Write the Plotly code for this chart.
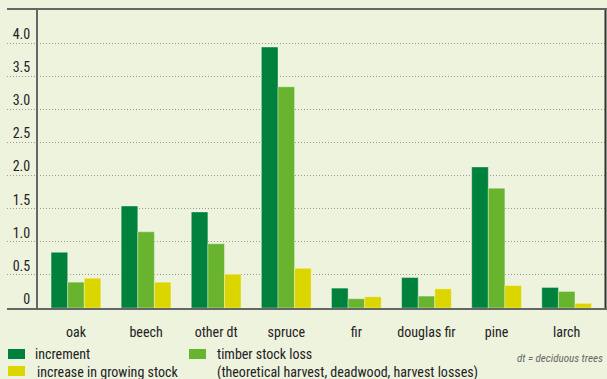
import plotly.graph_objects as go

# ── Data ──────────────────────────────────────────────────────────────────────
species = ["oak", "beech", "other dt", "spruce", "fir", "douglas fir", "pine", "larch"]
increment = [0.84, 1.54, 1.45, 3.94, 0.30, 0.46, 2.13, 0.31]
timber_loss = [0.39, 1.15, 0.97, 3.34, 0.14, 0.18, 1.81, 0.25]
stock_increase = [0.45, 0.39, 0.51, 0.60, 0.17, 0.29, 0.34, 0.07]

y_ticks = [0, 0.5, 1.0, 1.5, 2.0, 2.5, 3.0, 3.5, 4.0]
y_tick_text = ["0", "0.5", "1.0", "1.5", "2.0", "2.5", "3.0", "3.5", "4.0"]

# ── Style ─────────────────────────────────────────────────────────────────────
BG = "#EEF3DE"
DARK = "#00823C"
LIGHT = "#68B42E"
YELLOW = "#DCD600"
FONT = "Liberation Sans Narrow, Roboto Condensed, DejaVu Sans Condensed, Roboto, sans-serif"

W, H = 607, 379
ML, MR, MT, MB = 7, 0, 10, 71
PW, PH = W - ML - MR, H - MT - MB

x_idx = list(range(len(species)))
bar_line = dict(color="rgba(255,255,255,0.35)", width=1)

fig = go.Figure()
for name, vals, col in [
    ("increment", increment, DARK),
    ("timber stock loss", timber_loss, LIGHT),
    ("increase in growing stock", stock_increase, YELLOW),
]:
    fig.add_trace(go.Bar(x=x_idx, y=vals, name=name, showlegend=False,
                         marker=dict(color=col, line=bar_line)))


def px_x(p):
    return (p - ML) / PW


def px_y(p):
    return 1 - (p - MT) / PH


# ── Hand-made legend ──────────────────────────────────────────────────────────
legend_items = [
    (DARK, 8, 349, "increment", 33, 354),
    (YELLOW, 8, 366, "increase in growing stock", 35, 372),
    (LIGHT, 189, 349, "timber stock loss", 215, 354),
]
shapes = []
annotations = []
for col, sx, sy, text, tx, ty in legend_items:
    shapes.append(dict(type="rect", xref="paper", yref="paper",
                       x0=px_x(sx), x1=px_x(sx + 17), y0=px_y(sy), y1=px_y(sy + 10),
                       fillcolor=col, line=dict(width=0)))
    annotations.append(dict(text=text, xref="paper", yref="paper", x=px_x(tx), y=px_y(ty),
                            xanchor="left", yanchor="middle", showarrow=False,
                            font=dict(size=14, color="#222")))
annotations.append(dict(text="(theoretical harvest, deadwood, harvest losses)",
                        xref="paper", yref="paper", x=px_x(215), y=px_y(372),
                        xanchor="left", yanchor="middle", showarrow=False,
                        font=dict(size=14, color="#222")))
annotations.append(dict(text="<i>dt = deciduous trees</i>", xref="paper", yref="paper",
                        x=px_x(605), y=px_y(358), xanchor="right", yanchor="middle",
                        showarrow=False, font=dict(size=11, color="#666")))
# unit label, cut off by the top edge as in the source
annotations.append(dict(text="m³/ha a", xref="paper", yref="paper", x=px_x(6), y=px_y(4),
                        xanchor="left", yanchor="bottom", showarrow=False,
                        font=dict(size=13, color="#333")))

# right border
shapes.append(dict(type="line", xref="paper", yref="paper", x0=px_x(605.5), x1=px_x(605.5),
                   y0=0, y1=1, line=dict(color="#333", width=2)))

fig.update_layout(
    width=W, height=H,
    margin=dict(l=ML, r=MR, t=MT, b=MB),
    paper_bgcolor=BG, plot_bgcolor=BG,
    font=dict(family=FONT, size=14, color="#222"),
    barmode="group", bargap=0.29, bargroupgap=0,
    shapes=shapes, annotations=annotations,
    xaxis=dict(
        tickmode="array", tickvals=x_idx, ticktext=species,
        range=[-0.984, 7.575], showgrid=False, zeroline=False,
        showline=True, linecolor="#666", linewidth=2, mirror=True,
        ticks="", ticklabelstandoff=10, tickfont=dict(size=14, color="#222"),
    ),
    yaxis=dict(
        range=[0, 4.5], tickmode="array", tickvals=y_ticks, ticktext=y_tick_text,
        anchor="free", position=(37 - ML) / PW,
        showline=True, linecolor="#666", linewidth=2,
        showgrid=True, gridcolor="#999", griddash="1px,2px", gridwidth=1,
        zeroline=False, ticks="", ticklabelshift=-9, ticklabelstandoff=3,
        tickfont=dict(size=14, color="#222"),
    ),
)

# page body has a default margin; drop it so the figure sits at the window corner
fig.write_html("out.html", config={"displayModeBar": False},
               post_script="document.body.style.margin='0';")
